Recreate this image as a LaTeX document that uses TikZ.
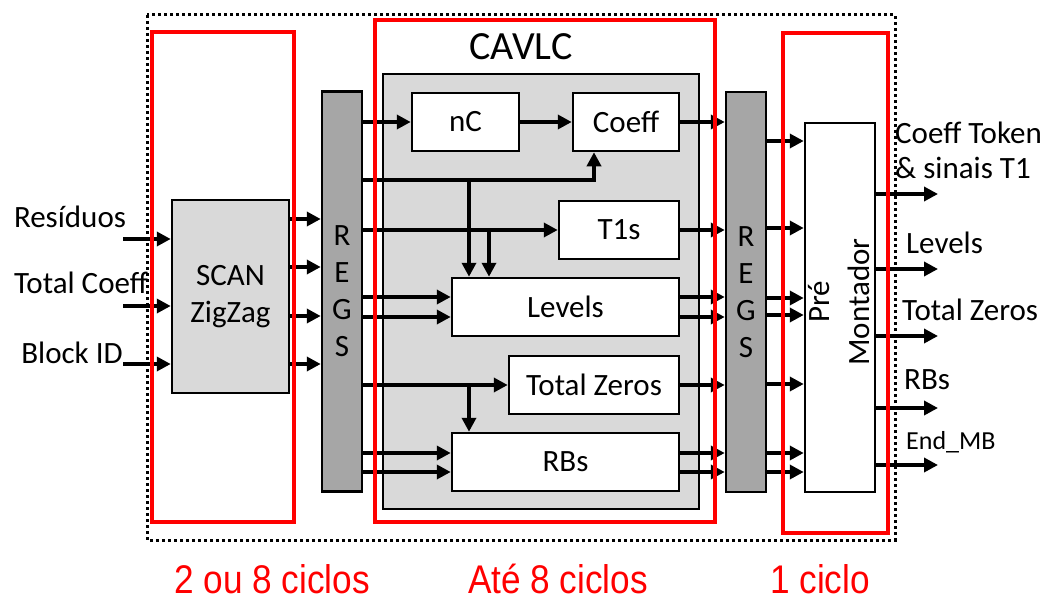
\documentclass[tikz,border=0pt]{standalone}
\usepackage{fontspec}
\setmainfont{Carlito}
\newfontfamily\cycfont{Liberation Sans}
\usetikzlibrary{arrows.meta}

\definecolor{lightgr}{HTML}{D9D9D9}
\definecolor{darkgr}{HTML}{A6A6A6}

\tikzset{
  blk/.style={draw, line width=2.5pt, fill=white, inner sep=0pt,
    font=\fontsize{31}{36}\selectfont},
  regs/.style={blk, fill=darkgr, minimum width=40pt, minimum height=400pt,
    align=center, font=\fontsize{31}{37}\selectfont},
  arr/.style={line width=4pt, -{Triangle[length=14pt,width=14pt]}},
  stage/.style={draw=red, line width=3.5pt},
  lbl/.style={inner sep=0pt, font=\fontsize{31}{35}\selectfont},
  cyc/.style={inner sep=0pt, anchor=base, xscale=0.88, text=red,
    font=\cycfont\fontsize{40}{46}\selectfont},
}

\begin{document}
\begin{tikzpicture}[x=1pt,y=-1pt]
\useasboundingbox (0,0) rectangle (1051,602);

% CAVLC area
\node[blk, fill=lightgr, minimum width=316pt, minimum height=435pt] (cavlc) at (541,291.5) {};
\node[inner sep=0pt, font=\fontsize{40}{44}\selectfont] (cavlcT) at (521,47) {CAVLC};

% Blocks
\node[blk, fill=lightgr, minimum width=117pt, minimum height=193pt, align=center,
  font=\fontsize{31}{37}\selectfont] (scan) at (230.5,296.5) {SCAN\\ZigZag};
\node[regs] (regsA) at (342,291.5) {R\\E\\G\\S};
\node[regs] (regsB) at (746,292) {R\\E\\G\\S};
\node[blk, minimum width=107pt, minimum height=58pt] (nC) at (465.5,122) {nC};
\node[blk, minimum width=106pt, minimum height=58pt] (coeff) at (626,122) {Coeff};
\node[blk, minimum width=120pt, minimum height=58pt] (tones) at (619,230) {T1s};
\node[blk, minimum width=227pt, minimum height=58pt] (levels) at (565.5,307) {Levels};
\node[blk, minimum width=170pt, minimum height=58pt] (tzeros) at (594,385) {Total Zeros};
\node[blk, minimum width=227pt, minimum height=58pt] (rbs) at (565.5,462) {RBs};
\node[blk, minimum width=70pt, minimum height=369pt] (pre) at (840,307.5) {};
\node[inner sep=0pt, rotate=90, align=center, font=\fontsize{31}{40}\selectfont]
  (preT) at (839,302) {Pré\\Montador};

% Inputs
\coordinate (inX) at (123,0);
\node[lbl] (resid) at (70,217) {Resíduos};
\node[lbl] (totc) at (81,283) {Total Coeff};
\node[lbl] (blkid) at (72,353) {Block ID};
\foreach \yy in {239,306,364}
  \draw[arr] (inX |- 0,\yy) -- (scan.west |- 0,\yy);

% SCAN to REGS
\foreach \yy in {219,267,316,364}
  \draw[arr] (scan.east |- 0,\yy) -- (regsA.west |- 0,\yy);

% REGS to CAVLC
\coordinate (busC) at (594,180);
\coordinate (tapA) at (469,180);
\coordinate (tapB) at (489,230);
\coordinate (tapC) at (469,385);
\draw[arr] (regsA.east |- nC.west) -- (nC.west);
\draw[arr] (nC.east) -- (coeff.west);
\draw[arr] (regsA.east |- busC) -| (busC |- coeff.south);
\draw[arr] (tapA) -- (tapA |- levels.north);
\draw[arr] (regsA.east |- tones.west) -- (tones.west);
\draw[arr] (tapB) -- (tapB |- levels.north);
\draw[arr] (regsA.east |- 0,297) -- (levels.west |- 0,297);
\draw[arr] (regsA.east |- 0,317) -- (levels.west |- 0,317);
\draw[arr] (regsA.east |- tzeros.west) -- (tzeros.west);
\draw[arr] (tapC) -- (tapC |- rbs.north);
\draw[arr] (regsA.east |- 0,453) -- (rbs.west |- 0,453);
\draw[arr] (regsA.east |- 0,472) -- (rbs.west |- 0,472);

% CAVLC to REGS
\draw[arr] (coeff.east) -- (coeff.east -| regsB.west);
\draw[arr] (tones.east) -- (tones.east -| regsB.west);
\draw[arr] (levels.east |- 0,297) -- (regsB.west |- 0,297);
\draw[arr] (levels.east |- 0,317) -- (regsB.west |- 0,317);
\draw[arr] (tzeros.east) -- (tzeros.east -| regsB.west);
\draw[arr] (rbs.east |- 0,453) -- (regsB.west |- 0,453);
\draw[arr] (rbs.east |- 0,472) -- (regsB.west |- 0,472);

% REGS to Pre Montador
\foreach \yy in {141,228,298,315,384,453,472}
  \draw[arr] (regsB.east |- 0,\yy) -- (pre.west |- 0,\yy);

% Outputs
\coordinate (outX) at (938,0);
\foreach \yy in {194,269,336,408,465}
  \draw[arr] (pre.east |- 0,\yy) -- (outX |- 0,\yy);
\node[lbl, anchor=west, align=left] (oCoeff) at (895,150) {Coeff Token\\\& sinais T1};
\node[lbl, anchor=west] (oLev) at (906,243) {Levels};
\node[lbl, anchor=west] (oTz) at (902,310) {Total Zeros};
\node[lbl, anchor=west] (oRb) at (904,380) {RBs};
\node[lbl, anchor=west, font=\fontsize{26}{30}\selectfont] (oEnd) at (906,442) {End\_MB};

% Pipeline stages
\draw[line width=3pt, dash pattern=on 3pt off 3pt] (147,15) rectangle (895,540);
\draw[stage] (152,32) rectangle (294,522);
\draw[stage] (375,20) rectangle (715,522);
\draw[stage] (783,33) rectangle (888,533);
\node[cyc] (cyc1) at (272,593) {2 ou 8 ciclos};
\node[cyc] (cyc2) at (558,593) {Até 8 ciclos};
\node[cyc] (cyc3) at (820,593) {1 ciclo};
\end{tikzpicture}
\end{document}
